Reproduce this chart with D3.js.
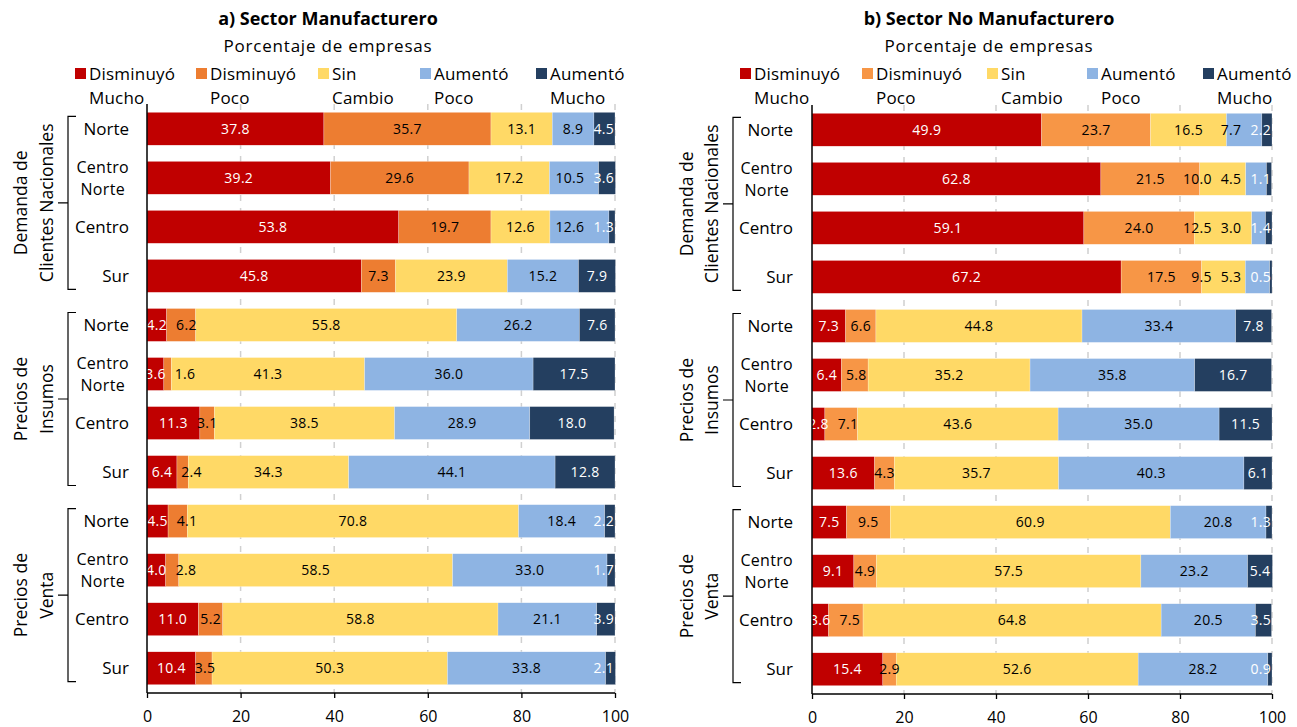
<!DOCTYPE html>
<html><head><meta charset="utf-8">
<script src="https://cdn.jsdelivr.net/npm/d3@7"></script>
<style>
body{margin:0;background:#fff}
svg{display:block}
text{font-family:"Open Sans","Noto Sans",sans-serif}
</style>
</head><body>
<svg id="c" width="1297" height="727"></svg>
<script>
// ---------- data ----------
const panelTitles = ["a) Sector Manufacturero", "b) Sector No Manufacturero"];
const subtitle = "Porcentaje de empresas";
const seriesNames = [["Disminuyó","Mucho"],["Disminuyó","Poco"],["Sin","Cambio"],["Aumentó","Poco"],["Aumentó","Mucho"]];
const groupNames = [["Demanda de","Clientes Nacionales"],["Precios de","Insumos"],["Precios de","Venta"]];
const regionNames = [["Norte"],["Centro","Norte"],["Centro"],["Sur"]];
const xTicks = [0,20,40,60,80,100];

// Sector Manufacturero (rows: 3 groups x 4 regions)
const manufDisminuyoMucho = [37.8,39.2,53.8,45.8, 4.2,3.6,11.3,6.4, 4.5,4.0,11.0,10.4];
const manufDisminuyoPoco  = [35.7,29.6,19.7,7.3, 6.2,1.6,3.1,2.4, 4.1,2.8,5.2,3.5];
const manufSinCambio      = [13.1,17.2,12.6,23.9, 55.8,41.3,38.5,34.3, 70.8,58.5,58.8,50.3];
const manufAumentoPoco    = [8.9,10.5,12.6,15.2, 26.2,36.0,28.9,44.1, 18.4,33.0,21.1,33.8];
const manufAumentoMucho   = [4.5,3.6,1.3,7.9, 7.6,17.5,18.0,12.8, 2.2,1.7,3.9,2.1];

// Sector No Manufacturero
const noManufDisminuyoMucho = [49.9,62.8,59.1,67.2, 7.3,6.4,2.8,13.6, 7.5,9.1,3.6,15.4];
const noManufDisminuyoPoco  = [23.7,21.5,24.0,17.5, 6.6,5.8,7.1,4.3, 9.5,4.9,7.5,2.9];
const noManufSinCambio      = [16.5,10.0,12.5,9.5, 44.8,35.2,43.6,35.7, 60.9,57.5,64.8,52.6];
const noManufAumentoPoco    = [7.7,4.5,3.0,5.3, 33.4,35.8,35.0,40.3, 20.8,23.2,20.5,28.2];
const noManufAumentoMucho   = [2.2,1.1,1.4,0.5, 7.8,16.7,11.5,6.1, 1.3,5.4,3.5,0.9];

// ---------- layout ----------
const svg = d3.select("#c");
const panels = [
  {title: panelTitles[0], series:[manufDisminuyoMucho,manufDisminuyoPoco,manufSinCambio,manufAumentoPoco,manufAumentoMucho],
   x0:147, x1:615, top:104, bottom:693, titleX:328, legendX:[75,196,318,420,536], catRight:129, bracketX:68, groupX:[21,47],
   colors:["#C00000","#ED7D31","#FFD966","#8EB4E3","#243F60"]},
  {title: panelTitles[1], series:[noManufDisminuyoMucho,noManufDisminuyoPoco,noManufSinCambio,noManufAumentoPoco,noManufAumentoMucho],
   x0:812, x1:1272, top:105, bottom:694, titleX:989, legendX:[740,862,987,1087,1203], catRight:793, bracketX:733, groupX:[687,712],
   colors:["#C00000","#F79646","#FFD966","#8EB4E3","#243F60"]}
];
const labelColors = ["#fff","#000","#000","#000","#fff"];
const nRows = groupNames.length * regionNames.length;

panels.forEach(p => {
  const g = svg.append("g");
  const x = d3.scaleLinear().domain([0,100]).range([p.x0, p.x1]);
  const y = d3.scaleBand().domain(d3.range(nRows)).range([p.top, p.bottom]).paddingInner(0.33).paddingOuter(0.17);

  // title & subtitle
  g.append("text").attr("x", p.titleX).attr("y", 25).attr("text-anchor","middle")
    .attr("font-size", 18).attr("font-weight","bold").text(p.title);
  g.append("text").attr("x", p.titleX).attr("y", 52).attr("text-anchor","middle")
    .attr("font-size", 17).attr("letter-spacing", 0.8).text(subtitle);

  // legend
  seriesNames.forEach((s,i) => {
    g.append("rect").attr("x", p.legendX[i]).attr("y", 68).attr("width", 11).attr("height", 11).attr("fill", p.colors[i]);
    g.append("text").attr("x", p.legendX[i]+14).attr("y", 80).attr("font-size",17).attr("letter-spacing",0.2).text(s[0]);
    g.append("text").attr("x", p.legendX[i]+14).attr("y", 104).attr("font-size",17).attr("letter-spacing",0.2).text(s[1]);
  });

  // gridlines
  g.append("g").selectAll("line").data(xTicks.filter(t=>t>0)).join("line")
    .attr("x1", d=>x(d)).attr("x2", d=>x(d)).attr("y1", p.top).attr("y2", p.bottom)
    .attr("stroke","#D0D0D0").attr("stroke-width",1.5).attr("stroke-dasharray","6,7");

  // bars
  const rows = d3.range(nRows).map(r => {
    let acc = 0;
    return p.series.map((arr,i) => { const v = arr[r]; const seg = {r, i, v, a: acc, b: acc+v}; acc += v; return seg; });
  });
  rows.forEach(segs => {
    g.append("g").selectAll("rect").data(segs).join("rect")
      .attr("x", d=>x(d.a)).attr("width", d=>Math.max(0, x(d.b)-x(d.a)))
      .attr("y", d=>y(d.r)).attr("height", y.bandwidth())
      .attr("fill", d=>p.colors[d.i]).attr("stroke","#fff").attr("stroke-width",0.4).attr("stroke-opacity",0.6);
  });

  // value labels with overlap resolution
  rows.forEach(segs => {
    const texts = segs.map(d => g.append("text")
      .attr("y", y(d.r)+y.bandwidth()/2).attr("dy","0.35em").attr("text-anchor","middle")
      .attr("font-size",14).attr("letter-spacing",0.3).attr("fill", labelColors[d.i]).text(d.v.toFixed(1)));
    const w = texts.map(t => t.node().getComputedTextLength());
    const c = segs.map(d => x((d.a+d.b)/2));
    const gap = 9;
    const pos = c.slice();
    for (let i=1;i<pos.length;i++) pos[i] = Math.max(pos[i], pos[i-1] + w[i-1]/2 + gap + w[i]/2);
    const L = pos.length-1;
    pos[L] = Math.min(pos[L], p.x1 - w[L]/2 - 1);
    for (let i=L-1;i>=0;i--) pos[i] = Math.min(pos[i], pos[i+1] - w[i+1]/2 - gap - w[i]/2);
    texts.forEach((t,i) => t.attr("x", pos[i]));
  });

  // axes
  const xAxis = d3.axisBottom(x).tickValues(xTicks).tickSize(5).tickFormat(d3.format("d"));
  const ax = g.append("g").attr("transform", `translate(0,${p.bottom})`).call(xAxis);
  ax.select(".domain").attr("stroke","#000").attr("stroke-width",1.5).attr("d", `M${p.x0},0H${p.x1}`);
  ax.selectAll(".tick line").attr("stroke","#000").attr("stroke-width",1.3);
  ax.selectAll(".tick text").attr("font-size",16).attr("font-family","Open Sans").attr("fill","#000").attr("dy","1.3em");
  g.append("line").attr("x1",p.x0).attr("x2",p.x0).attr("y1",p.top).attr("y2",p.bottom)
    .attr("stroke","#000").attr("stroke-width",1.5);

  // category labels
  d3.range(nRows).forEach(r => {
    const lines = regionNames[r % regionNames.length];
    const cy = y(r) + y.bandwidth()/2;
    if (lines.length === 1) {
      g.append("text").attr("x", p.catRight).attr("y", cy).attr("dy","0.35em").attr("text-anchor","end")
        .attr("font-size",17).text(lines[0]);
    } else {
      const ts = lines.map((l,k) => g.append("text").attr("y", cy + (k===0?-10.5:11.5)).attr("dy","0.35em")
        .attr("text-anchor","middle").attr("font-size",16).attr("letter-spacing",0.3).text(l));
      const mw = d3.max(ts, s=>s.node().getComputedTextLength());
      ts.forEach(s => s.attr("x", p.catRight - mw/2));
    }
  });

  // group brackets and labels
  groupNames.forEach((gn, gi) => {
    const r0 = gi*regionNames.length, r1 = r0 + regionNames.length - 1;
    const yt = y(r0) + 4, yb = y(r1) + y.bandwidth() - 3, ym = (yt+yb)/2;
    const bx = p.bracketX;
    g.append("path").attr("d", `M${bx+8},${yt}H${bx}V${yb}H${bx+8}M${bx},${ym}H${bx-10}`)
      .attr("fill","none").attr("stroke","#000").attr("stroke-width",1.2);
    gn.forEach((line,k) => {
      g.append("text").attr("transform", `translate(${p.groupX[k]},${ym}) rotate(-90)`)
        .attr("text-anchor","middle").attr("dy","0.35em").attr("font-size",17.5).text(line);
    });
  });
});
</script>
</body></html>
